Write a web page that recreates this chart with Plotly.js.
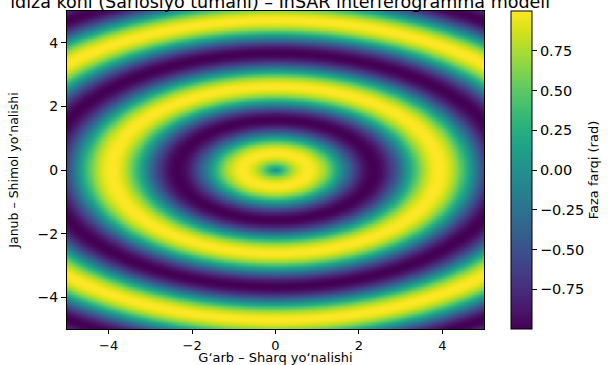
<!DOCTYPE html>
<html>
<head>
<meta charset="utf-8">
<script src="https://cdn.plot.ly/plotly-3.0.1.min.js"></script>
<style>html,body{margin:0;padding:0;background:#fff;}#chart{width:608px;height:365px;}</style>
</head>
<body>
<div id="chart"></div>
<script>
// Axis extents
const xExtent = [-5, 5];
const yExtent = [-5, 5];
const gridCount = 400;
// Interferogram model constants read from fringe positions
const waveNumber = [2.0];     // rad per unit radius
const yStretch = [1.5];       // N-S elliptical stretch
const axisTicks = [-4, -2, 0, 2, 4];
const colorTicks = [-0.75, -0.5, -0.25, 0, 0.25, 0.5, 0.75];
const colorRange = [-1, 1];

const xs = [], ys = [];
for (let i = 0; i < gridCount; i++) {
  xs.push(xExtent[0] + (xExtent[1] - xExtent[0]) * i / (gridCount - 1));
  ys.push(yExtent[0] + (yExtent[1] - yExtent[0]) * i / (gridCount - 1));
}
const z = ys.map(y => xs.map(x => Math.sin(waveNumber[0] * Math.sqrt(x * x + (yStretch[0] * y) * (yStretch[0] * y)))));

const font = {family: 'DejaVu Sans', color: '#000'};
const trace = {
  type: 'heatmap', x: xs, y: ys, z: z,
  colorscale: 'Viridis', zmin: colorRange[0], zmax: colorRange[1],
  zsmooth: false,
  colorbar: {
    x: 1.0647, xanchor: 'left', xpad: 0, ypad: 0,
    y: 0.5, yanchor: 'middle', len: 1, lenmode: 'fraction',
    thickness: 21, thicknessmode: 'pixels',
    outlinewidth: 1, outlinecolor: '#000',
    tickvals: colorTicks, tickformat: '.2f',
    ticks: 'outside', ticklen: 5, tickcolor: '#000',
    tickfont: {family: 'DejaVu Sans', size: 14.5, color: '#000'},
    title: {text: 'Faza farqi (rad)', side: 'right', font: {family: 'DejaVu Sans', size: 13, color: '#000'}}
  }
};
const layout = {
  width: 608, height: 365,
  margin: {l: 67, r: 124, t: 11, b: 36, pad: 0, autoexpand: false},
  paper_bgcolor: '#fff', plot_bgcolor: '#fff',
  font: font,
  title: {
    text: 'ldiza koni (Sariosiyo tumani) – InSAR interferogramma modeli',
    font: {family: 'DejaVu Sans', size: 17.5, color: '#000'},
    xref: 'container', x: 550 / 608, xanchor: 'right',
    yref: 'container', y: 1 - 8 / 365, yanchor: 'bottom'
  },
  xaxis: {
    range: xExtent, tickvals: axisTicks, ticks: 'outside', ticklen: 4,
    tickcolor: '#000', showgrid: false, zeroline: false,
    showline: true, linecolor: '#000', linewidth: 1, mirror: true,
    tickfont: {family: 'DejaVu Sans', size: 13, color: '#000'},
    title: {text: 'Gʻarb – Sharq yoʻnalishi', standoff: 8, font: {family: 'DejaVu Sans', size: 13, color: '#000'}}
  },
  yaxis: {
    range: yExtent, tickvals: axisTicks, ticks: 'outside', ticklen: 5,
    tickcolor: '#000', showgrid: false, zeroline: false,
    showline: true, linecolor: '#000', linewidth: 1, mirror: true,
    tickfont: {family: 'DejaVu Sans', size: 14, color: '#000'},
    title: {text: 'Janub – Shimol yoʻnalishi', standoff: 16, font: {family: 'DejaVu Sans', size: 12.5, color: '#000'}}
  }
};
Plotly.newPlot('chart', [trace], layout, {displayModeBar: false, staticPlot: true});
</script>
</body>
</html>
